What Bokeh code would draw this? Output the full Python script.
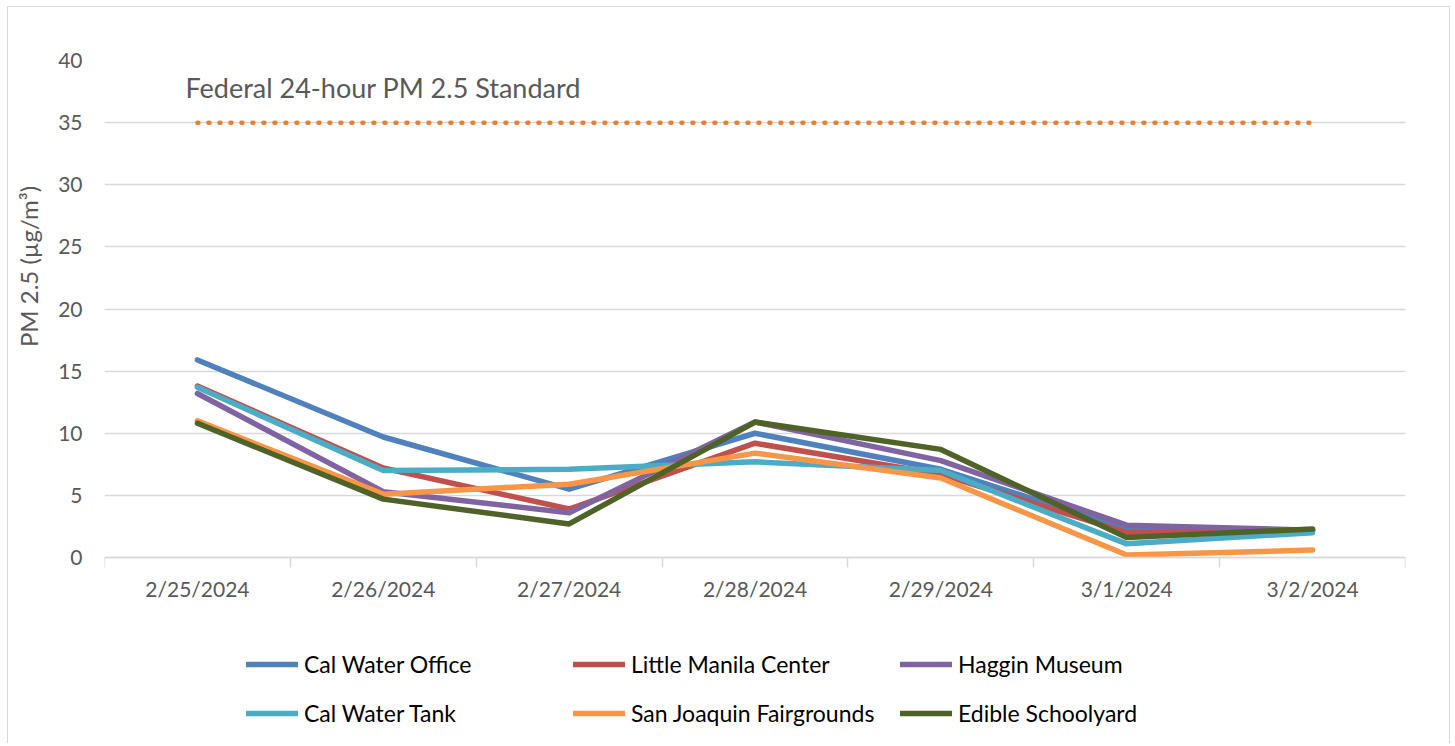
from bokeh.plotting import figure
from bokeh.models import (Range1d, FixedTicker, Legend, LegendItem, Label)
from bokeh.embed import file_html
from bokeh.resources import INLINE

# ---- data ----
dates = ["2/25/2024", "2/26/2024", "2/27/2024", "2/28/2024", "2/29/2024", "3/1/2024", "3/2/2024"]
cal_water_office = [15.9, 9.7, 5.5, 10.0, 7.1, 2.3, 2.2]
little_manila = [13.8, 7.2, 3.9, 9.2, 6.7, 2.0, 2.2]
haggin_museum = [13.2, 5.3, 3.6, 10.9, 7.8, 2.6, 2.2]
cal_water_tank = [13.7, 7.0, 7.1, 7.7, 7.0, 1.1, 2.0]
san_joaquin = [11.0, 5.1, 5.9, 8.4, 6.4, 0.2, 0.6]
edible_schoolyard = [10.8, 4.7, 2.7, 10.9, 8.7, 1.6, 2.3]
federal_standard = [35, 35, 35, 35, 35, 35, 35]
standard_label = "Federal 24-hour PM 2.5 Standard"
y_label = "PM 2.5 (µg/m³)"
y_ticks = [0, 5, 10, 15, 20, 25, 30, 35, 40]

series = [
    ("Cal Water Office", cal_water_office, "#4F81BD"),
    ("Little Manila Center", little_manila, "#C0504D"),
    ("Haggin Museum", haggin_museum, "#8064A2"),
    ("Cal Water Tank", cal_water_tank, "#4BACC6"),
    ("San Joaquin Fairgrounds", san_joaquin, "#F79646"),
    ("Edible Schoolyard", edible_schoolyard, "#4F6228"),
]

xpos = [i + 0.5 for i in range(len(dates))]
FONT = "Lato"
GRID = "#d9d9d9"
TXT = "#595959"

# frame extends below the zero line to hold the legend (497 px for 0..40)
plot_h = 497
frame_h = 676
y_min = -40 * (frame_h - plot_h) / plot_h

p = figure(frame_width=1301, frame_height=frame_h,
           min_border_left=96, min_border_top=53, min_border_right=44, min_border_bottom=7,
           x_range=Range1d(0, len(dates)), y_range=Range1d(y_min, 40),
           output_backend="svg", toolbar_location=None)
p.styles = {"border": "1px solid #d9d9d9", "border-bottom": "0px", "margin-left": "7px", "margin-top": "6px"}
p.outline_line_color = None
p.background_fill_color = "white"
p.border_fill_color = "white"

# axes
xa = p.xaxis[0]
xa.fixed_location = 0
xa.ticker = FixedTicker(ticks=xpos, minor_ticks=list(range(len(dates) + 1)))
xa.major_label_overrides = {x: d for x, d in zip(xpos, dates)}
xa.axis_line_color = GRID
xa.axis_line_width = 1.5
xa.major_tick_line_color = None
xa.major_tick_out = 0
xa.major_tick_in = 0
xa.minor_tick_line_color = GRID
xa.minor_tick_line_width = 1.5
xa.minor_tick_out = 10
xa.minor_tick_in = 0
xa.major_label_standoff = 8
xa.major_label_text_font = FONT
xa.major_label_text_font_size = "21px"
xa.major_label_text_color = TXT

ya = p.yaxis[0]
ya.ticker = FixedTicker(ticks=y_ticks)
ya.axis_line_color = None
ya.major_tick_line_color = None
ya.minor_tick_line_color = None
ya.major_tick_out = 0
ya.major_tick_in = 0
ya.major_label_standoff = 22
ya.major_label_text_font = FONT
ya.major_label_text_font_size = "21px"
ya.major_label_text_color = TXT
# leading no-break spaces lift the centred label up to the 0..40 part of the frame
ya.axis_label = "\u00a0" * 43 + y_label
ya.axis_label_text_font = FONT
ya.axis_label_text_font_size = "24px"
ya.axis_label_text_font_style = "normal"
ya.axis_label_text_color = TXT
ya.axis_label_standoff = 12

p.xgrid.grid_line_color = None
p.ygrid.grid_line_color = GRID
p.ygrid.grid_line_width = 1.5
p.ygrid.ticker = FixedTicker(ticks=y_ticks)

# federal standard dotted line
p.line(xpos, federal_standard, line_color="#ED7D31", line_width=4.5,
       line_dash="1 10", line_cap="round")
p.add_layout(Label(x=xpos[0], y=37.85, x_offset=-12, text=standard_label,
                   text_font=FONT, text_font_size="27px", text_color=TXT,
                   text_baseline="middle", text_align="left"))

items = []
for name, vals, color in series:
    r = p.line(xpos, vals, line_color=color, line_width=5.5, line_cap="round", line_join="round")
    items.append(LegendItem(label=name, renderers=[r]))

lg = Legend(items=items, location=(142, 9), orientation="horizontal", ncols=3,
            glyph_width=52, glyph_height=28, label_height=28, label_width=248,
            label_standoff=6, spacing=21, padding=0, margin=0,
            border_line_color=None, background_fill_alpha=0,
            label_text_font=FONT, label_text_font_size="23px",
            label_text_color="#000000", label_text_baseline="middle")
p.add_layout(lg, "center")

open("out.html", "w").write(file_html(p, INLINE))
